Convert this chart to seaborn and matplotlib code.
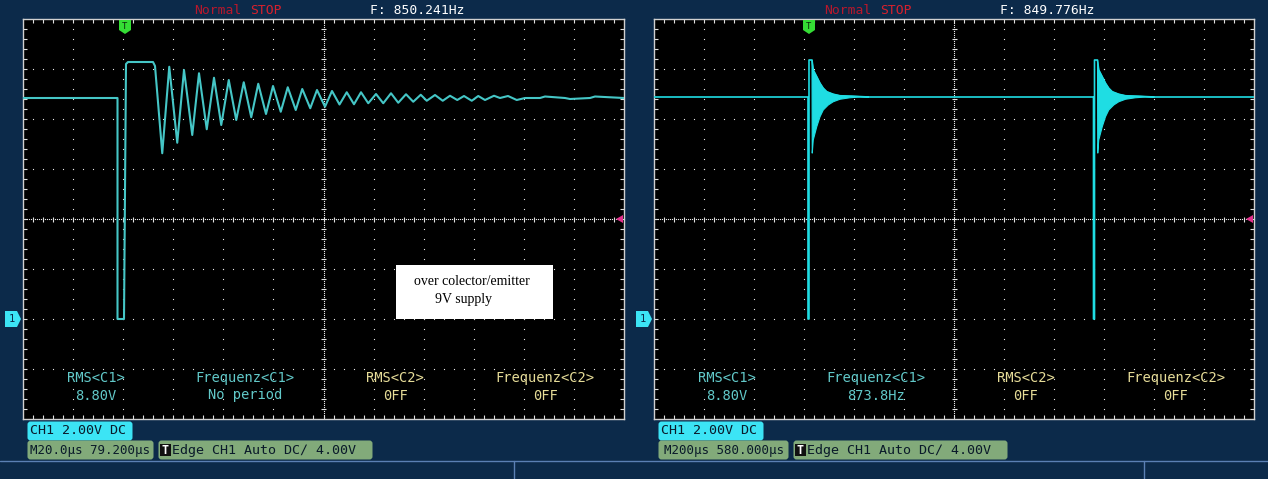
import numpy as np
import pandas as pd
import matplotlib
matplotlib.use("Agg")
import matplotlib.pyplot as plt
import seaborn as sns
from matplotlib.patches import Polygon, Rectangle, FancyBboxPatch

# ---------------- data ----------------
# Left screen: 20 us/div, 2 V/div, time relative to trigger (us), volts
left_xlim = (-40.8, 199.6)
left_t = [-40.8, -3.0, -3.0, -0.4, 0.4, 1.2, 11.2, 12.0,
          14.9, 17.7, 20.9, 23.6, 26.9, 29.6, 32.7, 35.6, 38.5, 41.5,
          44.5, 47.5, 50.5, 53.3, 56.4, 59.2, 62.3, 65.1, 68.3, 70.9,
          74.1, 76.8, 80.0, 82.8, 85.8, 88.7, 91.6, 94.4, 97.3, 100.4,
          103.3, 106.4, 109.3, 112.4, 115.3, 118.3, 120.7, 124.0, 127.1,
          130.0, 132.9, 135.6, 138.7, 141.3, 144.0, 147.6, 150.0, 153.2,
          156.7, 160.0, 166.0, 168.0, 176.0, 178.0, 186.0, 188.0, 199.6]
left_v = [8.84, 8.84, 0.0, 0.0, 10.20, 10.28, 10.28, 10.12,
          6.63, 10.09, 7.05, 9.96, 7.36, 9.83, 7.59, 9.65, 7.76, 9.56,
          7.96, 9.47, 8.07, 9.41, 8.20, 9.32, 8.29, 9.27, 8.36, 9.20,
          8.43, 9.16, 8.49, 9.12, 8.58, 9.07, 8.59, 9.07, 8.63, 9.00,
          8.63, 9.03, 8.65, 8.99, 8.69, 8.97, 8.73, 8.96, 8.73,
          8.93, 8.76, 8.92, 8.73, 8.92, 8.76, 8.93, 8.84, 8.92,
          8.76, 8.84, 8.84, 8.90, 8.84, 8.80, 8.84, 8.90, 8.84]

# Right screen: 200 us/div, bursts repeat (873.8 Hz)
right_xlim = (-620, 1780)
right_base = 8.88
burst_times = [0, 1142]
spike_rel_t = [-4, -4, 0, 0]
spike_rel_v = [right_base, 0.0, 0.0, 10.36]
env_up_t = [12, 17, 31, 44, 57, 71, 97, 124, 176, 240]
env_up_v = [10.36, 9.96, 9.69, 9.43, 9.23, 9.09, 8.99, 8.93, 8.91, 8.88]
env_lo_t = [13, 17, 31, 44, 57, 77, 97, 124, 164, 204]
env_lo_v = [6.63, 7.16, 7.69, 8.09, 8.36, 8.56, 8.69, 8.79, 8.85, 8.88]

ylim = (-4, 12)

left_labels = {"status": "F: 850.241Hz", "meas": ["8.80V", "No period", "0FF", "0FF"],
               "time": "M20.0µs 79.200µs"}
right_labels = {"status": "F: 849.776Hz", "meas": ["8.80V", "873.8Hz", "0FF", "0FF"],
                "time": "M200µs 580.000µs"}
meas_titles = ["RMS<C1>", "Frequenz<C1>", "RMS<C2>", "Frequenz<C2>"]
note_lines = ["over colector/emitter", "9V supply"]

# ---------------- style ----------------
W, H, DPI = 1268, 479, 100
BG = "#0c2a4a"
TRACE_L = "#45c6c6"
TRACE_R = "#1fdde3"
C1_COL = "#62c9c9"
C2_COL = "#e6dc98"
CYAN_BOX = "#3ce4f5"
GREEN_BOX = "#82aa7a"
MONO = "DejaVu Sans Mono"

sns.set_style("dark")
plt.rcParams["font.family"] = ["DejaVu Sans Mono", "DejaVu Sans"]

fig = plt.figure(figsize=(W / DPI, H / DPI), dpi=DPI, facecolor=BG)


def fig_rect(x0, y0, x1, y1):
    return [x0 / W, 1 - y1 / H, (x1 - x0) / W, (y1 - y0) / H]


def draw_grid(ax, wpx, hpx):
    tr = ax.transAxes
    nx, ny = 12, 8
    dot = dict(ls="none", marker="s", ms=0.8, mew=0, color="#e8e8e8",
               transform=tr, clip_on=False, zorder=1)
    ys = np.arange(1, ny * 5) / (ny * 5)
    xs = np.arange(1, nx * 5) / (nx * 5)
    for i in range(1, nx):
        if i == 6:
            continue
        ax.plot(np.full_like(ys, i / nx), ys, **dot)
    for j in range(1, ny):
        if j == 4:
            continue
        ax.plot(xs, np.full_like(xs, j / ny), **dot)
    # centre lines: dense dots + ticks
    ysd = np.arange(1, ny * 25) / (ny * 25)
    xsd = np.arange(1, nx * 25) / (nx * 25)
    ax.plot(np.full_like(ysd, 0.5), ysd, **dot)
    ax.plot(xsd, np.full_like(xsd, 0.5), **dot)
    tk = dict(color="#e0e0e0", lw=0.8, transform=tr, zorder=1)
    ax.hlines(ys, 0.5 - 2.5 / wpx, 0.5 + 2.5 / wpx, **tk)
    ax.vlines(xs, 0.5 - 2.5 / hpx, 0.5 + 2.5 / hpx, **tk)
    # border ticks
    ax.vlines(xs, 0, 4 / hpx, **tk)
    ax.vlines(xs, 1 - 4 / hpx, 1, **tk)
    ax.hlines(ys, 0, 4 / wpx, **tk)
    ax.hlines(ys, 1 - 4 / wpx, 1, **tk)


def screen(rect, xlim):
    ax = fig.add_axes(rect)
    ax.set_facecolor("black")
    ax.set_xlim(*xlim)
    ax.set_ylim(*ylim)
    ax.set_xticks([])
    ax.set_yticks([])
    ax.grid(False)
    for s in ax.spines.values():
        s.set_color("#d0d0d0")
        s.set_linewidth(1.0)
        s.set_visible(True)
    return ax


# left screen
axL = screen(fig_rect(23, 19, 624, 419), left_xlim)
draw_grid(axL, 601, 400)
dfL = pd.DataFrame({"t": left_t, "v": left_v})
sns.lineplot(data=dfL, x="t", y="v", ax=axL, sort=False, estimator=None,
             color=TRACE_L, lw=1.5, zorder=3, solid_joinstyle="round")
axL.set_xlabel("")
axL.set_ylabel("")

# right screen
axR = screen(fig_rect(654, 19, 1254, 419), right_xlim)
draw_grid(axR, 600, 400)
rt, rv = [right_xlim[0]], [right_base]
for b in burst_times:
    rt += [b + t for t in spike_rel_t] + [b + t for t in env_up_t]
    rv += list(spike_rel_v) + list(env_up_v)
rt.append(right_xlim[1])
rv.append(right_base)
dfR = pd.DataFrame({"t": rt, "v": rv})
sns.lineplot(data=dfR, x="t", y="v", ax=axR, sort=False, estimator=None,
             color=TRACE_R, lw=1.2, zorder=3)
for b in burst_times:
    px = [b + t for t in env_up_t] + [b + t for t in env_lo_t[::-1]]
    py = list(env_up_v) + list(env_lo_v[::-1])
    axR.add_patch(Polygon(np.column_stack([px, py]), closed=True,
                          facecolor=TRACE_R, edgecolor=TRACE_R, lw=0.8, zorder=3))
axR.set_xlabel("")
axR.set_ylabel("")

# ---------------- overlay in pixel coordinates ----------------
ov = fig.add_axes([0, 0, 1, 1], zorder=10)
ov.set_xlim(0, W)
ov.set_ylim(H, 0)
ov.axis("off")
ov.patch.set_alpha(0)

# bottom separator lines
ov.plot([0, W], [461, 461], color="#5b80b4", lw=1.0)
ov.plot([514, 514], [461, H], color="#5b80b4", lw=1.0)
ov.plot([1144, 1144], [461, H], color="#5b80b4", lw=1.0)


def panel_text(x0, labels):
    ov.text(x0 + 194, 10, "Normal", color="#b8182c", fontsize=9.4,
            family=MONO, va="center", ha="left")
    ov.text(x0 + 250, 10, "STOP", color="#d8202c", fontsize=9.4,
            family=MONO, va="center", ha="left")
    ov.text(x0 + 417, 10, labels["status"], color="white", fontsize=9.4,
            family=MONO, va="center", ha="center")


def meas_text(centers, labels):
    for k, (cx, ttl, val) in enumerate(zip(centers, meas_titles, labels["meas"])):
        col = C1_COL if k < 2 else C2_COL
        ov.text(cx, 378, ttl, color=col, fontsize=9.9, family=MONO,
                ha="center", va="center")
        ov.text(cx, 395.5, val, color=col, fontsize=9.9, family=MONO,
                ha="center", va="center")


def box(x0, y0, x1, y1, col):
    ov.add_patch(FancyBboxPatch((x0 + 2, y0 + 1), x1 - x0 - 4, y1 - y0 - 2,
                                boxstyle="round,pad=1.5,rounding_size=3",
                                facecolor=col, edgecolor="none"))


def bottom_boxes(x0, mx1, tx0, tx1, labels):
    box(x0, 422, x0 + 106, 440, CYAN_BOX)
    ov.text(x0 + 3, 431, "CH1 2.00V DC", color="#0a1a2a", fontsize=9.6,
            family=MONO, ha="left", va="center")
    box(x0, 441, mx1, 459, GREEN_BOX)
    ov.text((x0 + mx1) / 2, 450.5, labels["time"], color="#0a1a2a", fontsize=9.0,
            family=MONO, ha="center", va="center")
    box(tx0, 441, tx1, 459, GREEN_BOX)
    ov.add_patch(Rectangle((tx0 + 2, 444), 11, 12, facecolor="#111111",
                           edgecolor="none"))
    ov.text(tx0 + 7.5, 450.5, "T", color="white", fontsize=8.5, family=MONO,
            ha="center", va="center", weight="bold")
    ov.text(tx0 + 14, 450.5, "Edge CH1 Auto DC\u2215 4.00V", color="#0a1a2a",
            fontsize=9.6, family=MONO, ha="left", va="center")


def markers(trig_x, gnd_x0, trig_lvl_x):
    ov.add_patch(Polygon([[trig_x - 6, 20], [trig_x + 6, 20], [trig_x + 6, 30],
                          [trig_x, 34], [trig_x - 6, 30]], closed=True,
                         facecolor="#35dd35", edgecolor="none"))
    ov.text(trig_x, 26.5, "T", color="#0a2a0a", fontsize=6.5, family=MONO,
            ha="center", va="center")
    ov.add_patch(Polygon([[gnd_x0, 311], [gnd_x0 + 12, 311], [gnd_x0 + 16, 319],
                          [gnd_x0 + 12, 327], [gnd_x0, 327]], closed=True,
                         facecolor="#3ce4f5", edgecolor="none"))
    ov.text(gnd_x0 + 6.5, 319.5, "1", color="#0c2a4a", fontsize=7.5,
            family=MONO, ha="center", va="center")
    ov.add_patch(Polygon([[trig_lvl_x, 215], [trig_lvl_x, 223],
                          [trig_lvl_x - 7, 219]], closed=True,
                         facecolor="#e0308c", edgecolor="none"))


panel_text(0, left_labels)
panel_text(630, right_labels)
meas_text([96, 245, 395, 545], left_labels)
meas_text([726.5, 876, 1026, 1175.5], right_labels)
bottom_boxes(27, 154, 158, 373, left_labels)
bottom_boxes(658, 789, 793, 1008, right_labels)
markers(125, 5, 623)
markers(809, 636, 1253)

# annotation box
ov.add_patch(Rectangle((396, 265), 157, 54, facecolor="white", edgecolor="none"))
ov.text(471.5, 281.5, note_lines[0], color="black", fontsize=10,
        family=["Liberation Serif", "DejaVu Serif"], ha="center", va="center")
ov.text(464, 299.5, note_lines[1], color="black", fontsize=10,
        family=["Liberation Serif", "DejaVu Serif"], ha="center", va="center")

fig.savefig("out.png", dpi=DPI, facecolor=BG)
